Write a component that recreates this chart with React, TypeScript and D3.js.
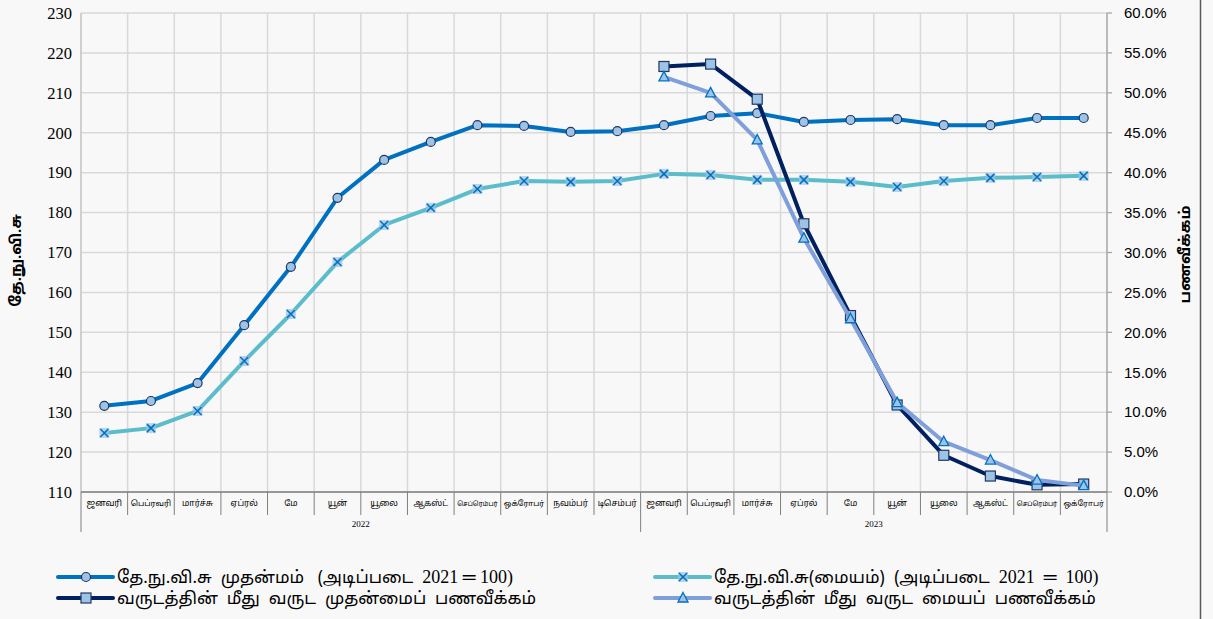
import React from "react";
import * as d3 from "d3";

const months = [
  "ஜனவரி", "பெப்ரவரி", "மார்ச்சு", "ஏப்ரல்", "மே", "யூன்",
  "யூலை", "ஆகஸ்ட்", "செப்ரெம்பர்", "ஒக்ரோபர்", "நவம்பர்", "டிசெம்பர்",
];
const years = ["2022", "2023"];
const monthsPerYear = [12, 10];

const headlineCpi = [
  131.6, 132.8, 137.3, 151.8, 166.4, 183.7, 193.2, 197.7, 201.9, 201.7, 200.2, 200.4,
  201.9, 204.2, 204.9, 202.7, 203.2, 203.4, 201.9, 201.9, 203.7, 203.7,
];
const coreCpi = [
  124.8, 126.0, 130.3, 142.8, 154.6, 167.6, 176.9, 181.2, 185.9, 187.9, 187.7, 187.9,
  189.7, 189.4, 188.2, 188.2, 187.7, 186.4, 187.9, 188.7, 188.9, 189.2,
];
const headlineYoY = [
  null, null, null, null, null, null, null, null, null, null, null, null,
  53.3, 53.6, 49.2, 33.6, 22.1, 10.9, 4.6, 2.0, 0.9, 1.0,
];
const coreYoY = [
  null, null, null, null, null, null, null, null, null, null, null, null,
  52.0, 50.0, 44.1, 31.8, 21.7, 11.2, 6.3, 4.0, 1.5, 0.8,
];

const leftTicks = [110, 120, 130, 140, 150, 160, 170, 180, 190, 200, 210, 220, 230];
const rightTicks = [0, 5, 10, 15, 20, 25, 30, 35, 40, 45, 50, 55, 60];

// [tamil part, base part]
const legendLabels: [string, string][] = [
  ["தே.நு.வி.சு\u00a0 முதன்மம்\u00a0\u00a0 (அடிப்படை\u00a0 ", "2021 ═ 100)"],
  ["தே.நு.வி.சு(மையம்)\u00a0 (அடிப்படை\u00a0 ", "2021\u00a0 ═\u00a0 100)"],
  ["வருடத்தின்\u00a0 மீது\u00a0 வருட\u00a0 முதன்மைப்\u00a0 பணவீக்கம்", ""],
  ["வருடத்தின்\u00a0 மீது\u00a0 வருட\u00a0 மையப்\u00a0 பணவீக்கம்", ""],
];

const W = 1213;
const H = 619;
const m = { left: 81, right: 1107, top: 13, bottom: 492 };

const colors = {
  headline: "#0070C0",
  core: "#5BBDCB",
  headYoY: "#002060",
  coreYoY: "#7F9FDB",
};
const markerFill = "#9DC3E6";

type Pt = { i: number; v: number | null };

const tamil = "'Noto Sans Tamil', 'Latha', 'Noto Sans', sans-serif";
const serif = "'Liberation Serif', 'Times New Roman', serif";

let ctx: CanvasRenderingContext2D | null = null;
function fitSize(label: string, base: number, maxW: number) {
  if (!ctx && typeof document !== "undefined") ctx = document.createElement("canvas").getContext("2d");
  if (!ctx) return base;
  ctx.font = `${base}px ${tamil}`;
  const w = ctx.measureText(label).width;
  return w > maxW ? (base * maxW) / w : base;
}

function Marker({ kind, x, y }: { kind: string; x: number; y: number }) {
  if (kind === "circle")
    return <circle cx={x} cy={y} r={4.5} fill={markerFill} stroke="#1F3864" strokeWidth={1.2} />;
  if (kind === "square")
    return <rect x={x - 5} y={y - 5} width={10} height={10} fill={markerFill} stroke="#1F3864" strokeWidth={1.2} />;
  if (kind === "tri")
    return (
      <path d={`M${x},${y - 5.5}L${x + 5},${y + 4}L${x - 5},${y + 4}Z`} fill={markerFill} stroke="#0070C0" strokeWidth={1.3} />
    );
  return (
    <g>
      <rect x={x - 5} y={y - 5} width={10} height={10} fill={markerFill} opacity={0.7} />
      <path d={`M${x - 4},${y - 4}L${x + 4},${y + 4}M${x + 4},${y - 4}L${x - 4},${y + 4}`} stroke="#0070C0" strokeWidth={1.5} />
    </g>
  );
}

export default function App() {
  const n = headlineCpi.length;
  const x = d3.scaleBand<number>().domain(d3.range(n)).range([m.left, m.right]);
  const bw = x.bandwidth();
  const cx = (i: number) => (x(i) as number) + bw / 2;
  const yL = d3.scaleLinear().domain([110, 230]).range([m.bottom, m.top]);
  const yR = d3.scaleLinear().domain([0, 60]).range([m.bottom, m.top]);

  const series = [
    { data: headlineCpi, y: yL, color: colors.headline, marker: "circle" },
    { data: coreCpi, y: yL, color: colors.core, marker: "x" },
    { data: headlineYoY, y: yR, color: colors.headYoY, marker: "square" },
    { data: coreYoY, y: yR, color: colors.coreYoY, marker: "tri" },
  ];

  let start = 0;
  const groups = years.map((yr, gi) => {
    const g = { yr, s: start, e: start + monthsPerYear[gi] };
    start += monthsPerYear[gi];
    return g;
  });

  const legendPos = [
    { lx: 58, ly: 577 },
    { lx: 655, ly: 577 },
    { lx: 58, ly: 598 },
    { lx: 655, ly: 598 },
  ];

  return (
    <div style={{ position: "fixed", left: 0, top: 0 }}>
      <svg width={W} height={H} style={{ display: "block", background: "#F8F8F8" }}>
        <rect x={0} y={0} width={W} height={H} fill="#F8F8F8" />
        <line x1={1200.5} x2={1200.5} y1={0} y2={H} stroke="#595959" strokeWidth={1.5} />

        {/* grid */}
        {leftTicks.map((t) => (
          <line key={"h" + t} x1={m.left} x2={m.right} y1={yL(t)} y2={yL(t)} stroke="#D9D9D9" strokeWidth={1.5} />
        ))}
        {d3.range(n + 1).map((i) => {
          const xx = m.left + i * bw;
          return <line key={"v" + i} x1={xx} x2={xx} y1={m.top} y2={m.bottom} stroke="#D9D9D9" strokeWidth={1.5} />;
        })}

        {/* left axis */}
        <line x1={m.left} x2={m.left} y1={m.top} y2={m.bottom} stroke="#BFBFBF" strokeWidth={1} />
        {leftTicks.map((t) => (
          <text key={"l" + t} x={72} y={yL(t)} dy="0.35em" textAnchor="end" fontFamily={serif} fontSize={16.5} fill="#000">
            {t}
          </text>
        ))}
        <text
          transform={`translate(21,${(m.top + m.bottom) / 2 + 8}) rotate(-90)`}
          textAnchor="middle"
          fontFamily={tamil}
          fontWeight="bold"
          fontSize={15}
          fill="#000"
        >
          தே.நு.வி.சு
        </text>

        {/* right axis */}
        <line x1={m.right} x2={m.right} y1={m.top} y2={m.bottom} stroke="#A6A6A6" strokeWidth={1.3} />
        {rightTicks.map((t) => (
          <g key={"r" + t}>
            <line x1={m.right} x2={m.right + 5} y1={yR(t)} y2={yR(t)} stroke="#A6A6A6" strokeWidth={1.3} />
            <text x={1124} y={yR(t)} dy="0.35em" fontFamily="'Liberation Sans', Arial, sans-serif" fontSize={15} fill="#000">
              {t.toFixed(1) + "%"}
            </text>
          </g>
        ))}
        <text
          transform={`translate(1190,${(m.top + m.bottom) / 2 + 2}) rotate(-90)`}
          textAnchor="middle"
          fontFamily={tamil}
          fontWeight="bold"
          fontSize={15}
          fill="#000"
        >
          பணவீக்கம்
        </text>

        {/* x axis */}
        <line x1={m.left} x2={m.right} y1={m.bottom} y2={m.bottom} stroke="#7F7F7F" strokeWidth={1.3} />
        {d3.range(n + 1).map((i) => {
          const xx = m.left + i * bw;
          const isGroup = groups.some((g) => g.s === i) || i === n;
          return (
            <line key={"t" + i} x1={xx} x2={xx} y1={m.bottom} y2={isGroup ? 532 : 515} stroke="#7F7F7F" strokeWidth={1} />
          );
        })}
        {d3.range(n).map((i) => {
          const label = months[i % 12];
          return (
            <text
              key={"m" + i}
              x={cx(i)}
              y={506}
              textAnchor="middle"
              fontFamily={tamil}
              fontSize={fitSize(label, 8.5, bw - 6)}
              fill="#000"
            >
              {label}
            </text>
          );
        })}
        {groups.map((g) => (
          <text
            key={g.yr}
            x={(m.left + g.s * bw + m.left + g.e * bw) / 2}
            y={527}
            textAnchor="middle"
            fontFamily={serif}
            fontSize={9}
            fill="#000"
          >
            {g.yr}
          </text>
        ))}

        {/* series */}
        {series.map((s, si) => {
          const pts: Pt[] = s.data.map((v, i) => ({ i, v }));
          const line = d3
            .line<Pt>()
            .defined((d) => d.v != null)
            .x((d) => cx(d.i))
            .y((d) => s.y(d.v as number));
          return (
            <g key={"s" + si}>
              <path d={line(pts) || ""} fill="none" stroke={s.color} strokeWidth={4} strokeLinejoin="round" />
              {pts
                .filter((d) => d.v != null)
                .map((d) => (
                  <Marker key={d.i} kind={s.marker} x={cx(d.i)} y={s.y(d.v as number)} />
                ))}
            </g>
          );
        })}

        {/* legend */}
        {series.map((s, si) => {
          const p = legendPos[si];
          const [ta, base] = legendLabels[si];
          return (
            <g key={"lg" + si}>
              <line x1={p.lx} x2={p.lx + 55} y1={p.ly} y2={p.ly} stroke={s.color} strokeWidth={4} strokeLinecap="round" />
              <Marker kind={s.marker} x={p.lx + 28} y={p.ly} />
              <text x={p.lx + 59} y={p.ly} dy="0.35em" fontFamily={tamil} fontSize={17} fill="#000">
                {ta}
                {base && <tspan fontFamily={serif} fontSize={18}>{base}</tspan>}
              </text>
            </g>
          );
        })}
      </svg>
    </div>
  );
}
